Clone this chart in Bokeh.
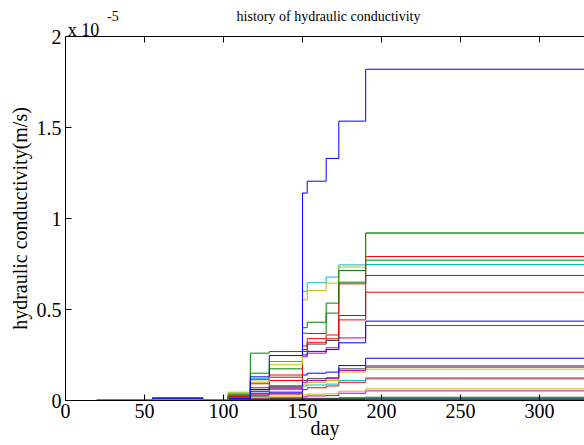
from bokeh.plotting import figure
from bokeh.models import Range1d, LinearAxis, FixedTicker, CustomJSTickFormatter
from bokeh.embed import file_html
from bokeh.resources import INLINE

# step times (day) at which values change; last entry closes the final step
days = [0, 20, 55, 87, 103, 117, 129, 150, 153, 165, 173, 190, 340]

# hydraulic conductivity values, in units of 1e-5 m/s, value held from each day above
blue_1 = [0, 0, 0, 0, 0, 0.13, 0.247, 1.14, 1.205, 1.33, 1.535, 1.82]
green_1 = [0, 0, 0, 0, 0.03, 0.26, 0.269, 0.40, 0.43, 0.535, 0.714, 0.921]
yellow_1 = [0, 0, 0, 0, 0.046, 0.10, 0.196, 0.553, 0.604, 0.645, 0.733, 0.917]
red_1 = [0, 0, 0, 0, 0.02, 0.114, 0.14, 0.30, 0.34, 0.36, 0.641, 0.791]
green_2 = [0, 0, 0, 0, 0.025, 0.15, 0.174, 0.37, 0.368, 0.48, 0.65, 0.771]
cyan_1 = [0, 0.005, 0.005, 0.005, 0.04, 0.12, 0.214, 0.60, 0.647, 0.678, 0.745, 0.747]
gray_1 = [0, 0, 0, 0, 0.03, 0.07, 0.128, 0.27, 0.31, 0.33, 0.467, 0.687]
red_2 = [0, 0, 0, 0, 0.02, 0.092, 0.11, 0.28, 0.32, 0.339, 0.443, 0.595]
blue_2 = [0, 0, 0.01, 0.005, 0.01, 0.06, 0.08, 0.25, 0.27, 0.28, 0.317, 0.436]
magenta_1 = [0, 0, 0, 0, 0.01, 0.05, 0.064, 0.24, 0.26, 0.29, 0.344, 0.412]
blue_3 = [0, 0, 0, 0, 0.01, 0.04, 0.046, 0.14, 0.15, 0.156, 0.192, 0.232]
gray_2 = [0, 0, 0, 0, 0.02, 0.06, 0.07, 0.11, 0.12, 0.125, 0.174, 0.19]
magenta_2 = [0, 0, 0, 0, 0.01, 0.03, 0.04, 0.10, 0.11, 0.12, 0.165, 0.183]
yellow_2 = [0, 0, 0, 0, 0.04, 0.06, 0.077, 0.09, 0.10, 0.11, 0.156, 0.172]
cyan_2 = [0, 0, 0, 0, 0.02, 0.05, 0.06, 0.08, 0.085, 0.09, 0.11, 0.125]
red_3 = [0, 0, 0, 0, 0.01, 0.03, 0.035, 0.06, 0.07, 0.08, 0.10, 0.119]
yellow_3 = [0, 0, 0, 0, 0.01, 0.015, 0.02, 0.03, 0.035, 0.037, 0.051, 0.064]
magenta_3 = [0, 0, 0, 0, 0.005, 0.01, 0.015, 0.02, 0.025, 0.027, 0.040, 0.053]
gray_3 = [0, 0, 0, 0, 0.01, 0.01, 0.012, 0.012, 0.012, 0.012, 0.015, 0.018]
blue_4 = [0, 0.005, 0.015, 0.005, 0.005, 0.005, 0.005, 0.006, 0.006, 0.006, 0.006, 0.007]
green_3 = [0, 0, 0, 0, 0.02, 0.02, 0.01, 0.01, 0.01, 0.01, 0.01, 0.01]
black_1 = [0, 0, 0, 0, 0, 0, 0, 0, 0, 0, 0, 0]

x_ticks = [0, 50, 100, 150, 200, 250, 300]
y_ticks = [0, 0.5, 1, 1.5, 2]

title_text = "history of hydraulic conductivity"
x_label = "day"
y_label = "hydraulic conductivity(m/s)"
scale_base = "x 10"
scale_exp = "-5"

B, G, R, C, M, Y, K = "#0000FF", "#008000", "#FF0000", "#00BFBF", "#BF00BF", "#BFBF00", "#404040"
series = [
    (black_1, K), (green_3, G), (blue_4, B), (gray_3, K), (magenta_3, M), (yellow_3, Y),
    (red_3, R), (cyan_2, C), (yellow_2, Y), (magenta_2, M), (gray_2, K), (blue_3, B),
    (magenta_1, M), (blue_2, B), (red_2, R), (gray_1, K), (cyan_1, C), (green_2, G),
    (red_1, R), (yellow_1, Y), (green_1, G), (blue_1, B),
]

FONT = "Liberation Serif"

p = figure(width=584, height=445, output_backend="svg", toolbar_location=None,
           x_range=Range1d(0, 328.5), y_range=Range1d(0, 2),
           min_border_left=65, min_border_right=0, min_border_top=36, min_border_bottom=45)
p.title.visible = False
p.outline_line_color = None
p.xgrid.visible = False
p.ygrid.visible = False
p.background_fill_color = "white"
p.border_fill_color = "white"

for vals, col in series:
    p.step(days, vals + [vals[-1]], mode="after", line_color=col, line_width=1)

for ax in (p.xaxis[0], p.yaxis[0]):
    ax.axis_line_color = "black"
    ax.axis_line_width = 1
    ax.major_tick_in = 6
    ax.major_tick_out = 0
    ax.minor_tick_in = 0
    ax.minor_tick_out = 0
    ax.major_label_text_font = FONT
    ax.major_label_text_font_size = "20px"
    ax.major_label_text_color = "black"
    ax.major_tick_line_color = "black"
    ax.axis_label_text_font = FONT
    ax.axis_label_text_font_size = "20px"
    ax.axis_label_text_font_style = "normal"
    ax.axis_label_text_color = "black"

p.xaxis[0].ticker = FixedTicker(ticks=x_ticks)
p.xaxis[0].major_label_standoff = 3
p.xaxis[0].axis_label = x_label
p.xaxis[0].axis_label_standoff = -4
p.yaxis[0].ticker = FixedTicker(ticks=y_ticks)
p.yaxis[0].formatter = CustomJSTickFormatter(code="return tick.toString()")
p.yaxis[0].major_label_standoff = 4
p.yaxis[0].axis_label = y_label
p.yaxis[0].axis_label_standoff = 3

# top box line (with inward minor ticks at the day ticks) carrying the "x 10" scale text
sci = LinearAxis(ticker=FixedTicker(ticks=[11.4], minor_ticks=x_ticks),
                 formatter=CustomJSTickFormatter(args=dict(t=[scale_base]), code="return t[index]"),
                 major_label_text_font=FONT, major_label_text_font_size="18px",
                 major_label_text_color="black", major_label_standoff=-3,
                 axis_line_color="black", axis_line_width=1,
                 major_tick_line_color=None, major_tick_in=0, major_tick_out=0,
                 minor_tick_line_color="black", minor_tick_in=6, minor_tick_out=0)
p.add_layout(sci, "above")

# exponent and title row
head = LinearAxis(ticker=FixedTicker(ticks=[30, 166.5], minor_ticks=[]),
                  formatter=CustomJSTickFormatter(args=dict(t=[scale_exp, title_text]), code="return t[index]"),
                  major_label_text_font=FONT, major_label_text_font_size="14px",
                  major_label_text_color="black", major_label_standoff=-13,
                  axis_line_color=None, major_tick_line_color=None, minor_tick_line_color=None)
p.add_layout(head, "above")

open("out.html", "w").write(file_html(p, INLINE))
